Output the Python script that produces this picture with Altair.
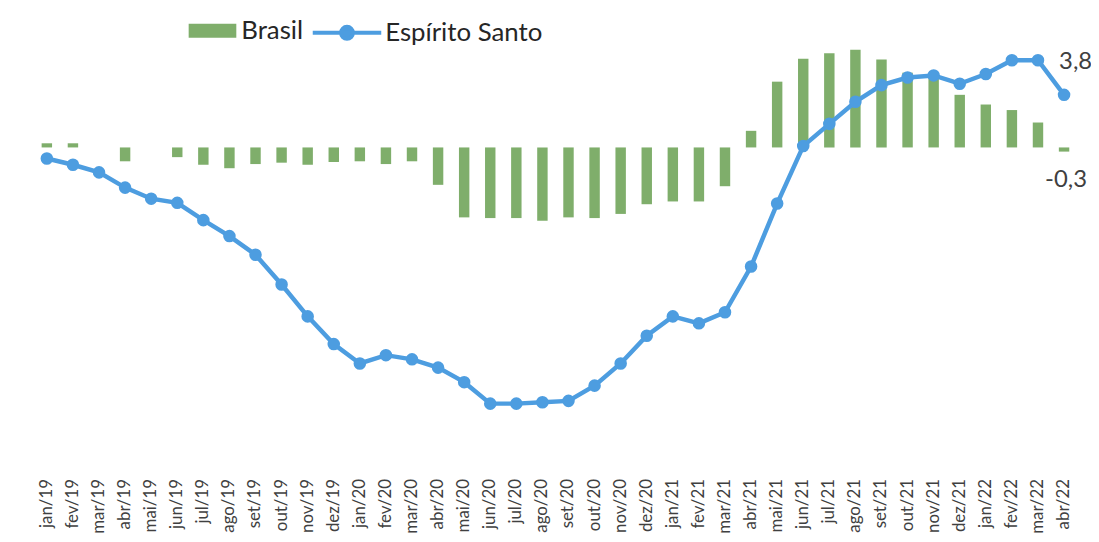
import altair as alt
import pandas as pd

meses = ["jan/19", "fev/19", "mar/19", "abr/19", "mai/19", "jun/19", "jul/19", "ago/19",
         "set/19", "out/19", "nov/19", "dez/19", "jan/20", "fev/20", "mar/20", "abr/20",
         "mai/20", "jun/20", "jul/20", "ago/20", "set/20", "out/20", "nov/20", "dez/20",
         "jan/21", "fev/21", "mar/21", "abr/21", "mai/21", "jun/21", "jul/21", "ago/21",
         "set/21", "out/21", "nov/21", "dez/21", "jan/22", "fev/22", "mar/22", "abr/22"]

brasil = [0.3, 0.3, 0.0, -1.0, 0.0, -0.7, -1.25, -1.5, -1.2, -1.1, -1.25, -1.05, -1.0, -1.2,
          -1.0, -2.7, -5.05, -5.1, -5.1, -5.3, -5.05, -5.1, -4.8, -4.1, -3.9, -3.9, -2.8,
          1.2, 4.75, 6.4, 6.8, 7.05, 6.35, 5.4, 5.3, 3.8, 3.1, 2.7, 1.8, -0.3]

espirito_santo = [-0.8, -1.25, -1.8, -2.9, -3.7, -4.0, -5.25, -6.4, -7.75, -9.9, -12.2,
                  -14.2, -15.6, -15.0, -15.3, -15.9, -16.95, -18.5, -18.5, -18.4, -18.3,
                  -17.2, -15.6, -13.6, -12.2, -12.7, -11.9, -8.6, -4.05, 0.1, 1.7, 3.3,
                  4.5, 5.05, 5.2, 4.6, 5.3, 6.3, 6.3, 3.8]

VERDE = "#7fae6b"
AZUL = "#4d9de0"
FONTE = "Lato"

df = pd.DataFrame({"mes": meses, "Brasil": brasil, "ES": espirito_santo})
df["serie_b"] = "Brasil"
df["serie_e"] = "Espírito Santo"
df["rot_b"] = [f"{v:.1f}".replace(".", ",") for v in brasil]
df["rot_e"] = [f"{v:.1f}".replace(".", ",") for v in espirito_santo]

x_enc = alt.X(
    "mes:N", sort=meses,
    scale=alt.Scale(paddingInner=0.6, paddingOuter=0.3),
    axis=alt.Axis(labelAngle=-90, domain=False, ticks=False, labelPadding=8,
                  labelFontSize=17, labelColor="#404040", labelFont=FONTE, title=None),
)
y_scale = alt.Scale(domain=[-23.33, 9.5], nice=False, zero=False)

base = alt.Chart(df)

bars = base.mark_bar().encode(
    x=x_enc,
    y=alt.Y("Brasil:Q", scale=y_scale, axis=None),
    fill=alt.Fill(
        "serie_b:N",
        scale=alt.Scale(domain=["Brasil"], range=[VERDE]),
        legend=alt.Legend(
            title=None, orient="none", legendX=156, legendY=-9, padding=0,
            symbolType="M-1,-0.29H1V0.29H-1Z", symbolSize=2304, symbolStrokeWidth=0,
            labelFontSize=26, labelFont=FONTE, labelColor="#262626", labelOffset=5,
        ),
    ),
)

line = base.mark_line(strokeWidth=4.5).encode(
    x=x_enc,
    y=alt.Y("ES:Q", scale=y_scale, axis=None),
    stroke=alt.Stroke(
        "serie_e:N",
        scale=alt.Scale(domain=["Espírito Santo"], range=[AZUL]),
        legend=alt.Legend(
            title=None, orient="none", legendX=279, legendY=-19.5, padding=0,
            symbolType="M-1,0H1M0.174,0A0.174,0.174,0,1,1,-0.174,0A0.174,0.174,0,1,1,0.174,0Z",
            symbolSize=4761, symbolStrokeWidth=4, symbolFillColor=AZUL,
            labelFontSize=26, labelFont=FONTE, labelColor="#262626", labelOffset=2,
        ),
    ),
)

points = base.mark_circle(size=160, color=AZUL, opacity=1).encode(
    x=x_enc,
    y=alt.Y("ES:Q", scale=y_scale, axis=None),
)

ultimo = base.transform_filter(alt.datum.mes == meses[-1])

txt_e = ultimo.mark_text(align="left", baseline="alphabetic", dx=-5, dy=-26,
                         fontSize=24, font=FONTE, color="#404040").encode(
    x=x_enc, y=alt.Y("ES:Q", scale=y_scale, axis=None), text="rot_e:N")

txt_b = ultimo.mark_text(align="center", baseline="alphabetic", dx=2, dy=36,
                         fontSize=24, font=FONTE, color="#404040").encode(
    x=x_enc, y=alt.Y("Brasil:Q", scale=y_scale, axis=None), text="rot_b:N")

chart = alt.layer(bars, line, points, txt_e, txt_b).properties(
    width=1051, height=458,
    autosize=alt.AutoSizeParams(type="none"),
    padding={"left": 26, "top": 6, "right": 14, "bottom": 62},
    background="white",
).configure_view(strokeWidth=0)

chart.save("out.html", embed_options={"renderer": "svg", "actions": False})
